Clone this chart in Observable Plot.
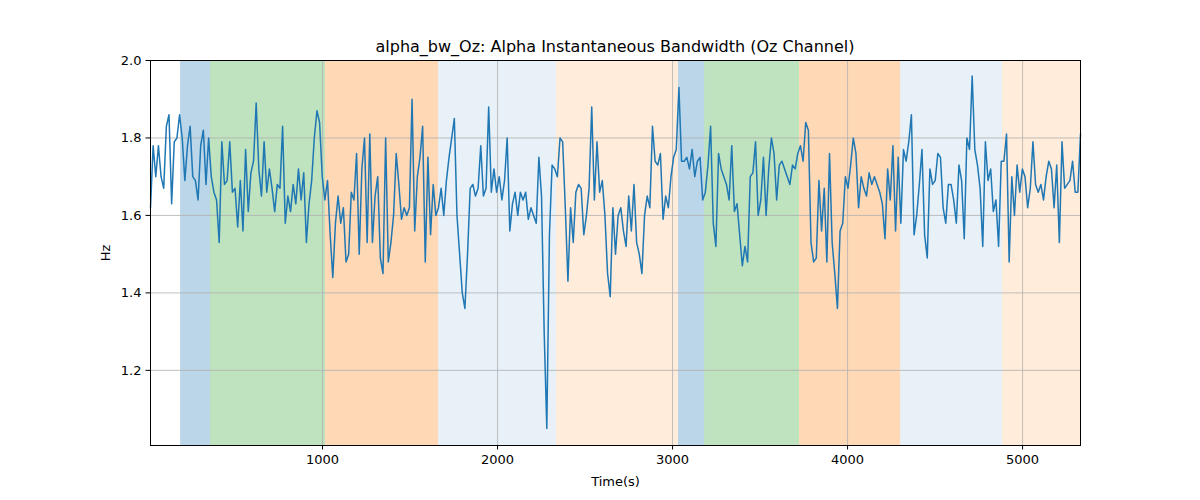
<!DOCTYPE html>
<html><head><meta charset="utf-8">
<script src="https://cdn.jsdelivr.net/npm/d3@7"></script>
<script src="https://cdn.jsdelivr.net/npm/@observablehq/plot@0.6"></script>
<style>body{margin:0;background:#fff;font-family:"DejaVu Sans",sans-serif}</style>
</head><body><div id="c"></div>
<script>
const values = [1.62,1.78,1.70,1.78,1.70,1.67,1.83,1.86,1.63,1.79,1.80,1.86,1.80,1.69,1.78,1.83,1.70,1.69,1.64,1.78,1.82,1.68,1.80,1.70,1.66,1.64,1.53,1.79,1.68,1.69,1.79,1.66,1.67,1.57,1.69,1.56,1.77,1.61,1.71,1.74,1.89,1.72,1.65,1.79,1.66,1.72,1.67,1.61,1.68,1.67,1.83,1.58,1.65,1.61,1.68,1.63,1.72,1.64,1.71,1.53,1.63,1.69,1.80,1.87,1.84,1.70,1.64,1.69,1.55,1.44,1.58,1.65,1.58,1.62,1.48,1.50,1.66,1.64,1.76,1.50,1.72,1.80,1.53,1.81,1.53,1.65,1.70,1.49,1.45,1.80,1.48,1.53,1.60,1.76,1.68,1.59,1.62,1.60,1.62,1.90,1.56,1.70,1.75,1.83,1.48,1.75,1.55,1.68,1.60,1.62,1.67,1.60,1.69,1.75,1.80,1.85,1.60,1.50,1.40,1.36,1.50,1.67,1.68,1.65,1.67,1.78,1.65,1.67,1.88,1.66,1.72,1.66,1.70,1.64,1.69,1.80,1.56,1.63,1.66,1.60,1.66,1.64,1.66,1.59,1.62,1.60,1.58,1.75,1.65,1.30,1.05,1.55,1.73,1.72,1.70,1.80,1.79,1.62,1.43,1.62,1.53,1.66,1.68,1.67,1.55,1.60,1.67,1.88,1.64,1.79,1.66,1.69,1.60,1.45,1.39,1.62,1.50,1.60,1.62,1.56,1.52,1.65,1.56,1.68,1.53,1.50,1.45,1.60,1.65,1.62,1.83,1.74,1.73,1.76,1.59,1.65,1.62,1.70,1.75,1.77,1.93,1.74,1.74,1.75,1.72,1.77,1.70,1.74,1.75,1.64,1.66,1.73,1.83,1.58,1.52,1.76,1.72,1.70,1.68,1.64,1.78,1.61,1.63,1.55,1.47,1.52,1.48,1.70,1.71,1.79,1.60,1.64,1.75,1.60,1.72,1.80,1.76,1.64,1.73,1.74,1.72,1.70,1.68,1.73,1.72,1.76,1.78,1.74,1.84,1.82,1.53,1.48,1.49,1.69,1.56,1.67,1.48,1.76,1.53,1.45,1.36,1.56,1.58,1.70,1.67,1.73,1.80,1.76,1.62,1.70,1.67,1.65,1.71,1.68,1.70,1.68,1.66,1.63,1.54,1.72,1.64,1.78,1.56,1.75,1.58,1.77,1.74,1.79,1.86,1.55,1.60,1.68,1.77,1.55,1.49,1.72,1.68,1.69,1.76,1.75,1.62,1.58,1.68,1.68,1.64,1.58,1.73,1.69,1.54,1.80,1.77,1.96,1.77,1.73,1.67,1.52,1.79,1.69,1.72,1.61,1.64,1.52,1.74,1.74,1.81,1.48,1.70,1.60,1.73,1.66,1.72,1.70,1.62,1.67,1.79,1.68,1.66,1.68,1.64,1.70,1.74,1.72,1.62,1.73,1.53,1.79,1.67,1.68,1.69,1.74,1.66,1.66,1.81];
const tStart = 17, tEnd = 5331;
const bandStarts = [189,360,1017,1663,2337,3034,3183,3726,4303,4886];
const bandEnds   = [360,1017,1663,2337,3034,3183,3726,4303,4886,5331];
const bandColors = ["#1f77b4","#2ca02c","#ff7f0e","#1f77b4","#ff7f0e","#1f77b4","#2ca02c","#ff7f0e","#1f77b4","#ff7f0e"];
const bandOpacity = [0.3,0.3,0.3,0.1,0.15,0.3,0.3,0.3,0.1,0.15];
const xTicks = [1000,2000,3000,4000,5000];
const yTicks = [1.2,1.4,1.6,1.8,2.0];

const step = (tEnd - tStart)/(values.length-1);
const series = values.map((v,i)=>({t: tStart+i*step, v}));
const bands = bandStarts.map((s,i)=>({x1:s,x2:bandEnds[i],c:bandColors[i],o:bandOpacity[i]}));

const chart = Plot.plot({
  width:1200, height:500,
  marginLeft:150, marginRight:120, marginTop:60, marginBottom:55,
  style:{fontFamily:"DejaVu Sans", fontSize:"13px", color:"#000"},
  x:{domain:[tStart,tEnd], ticks:xTicks, tickFormat:d=>String(d), label:"Time(s)", labelArrow:"none", labelAnchor:"center", labelOffset:40, tickSize:4.5},
  y:{domain:[1.006,2.0], ticks:yTicks, tickFormat:d=>d.toFixed(1), label:"Hz", labelArrow:"none", labelAnchor:"center", labelOffset:50, tickSize:4.5},
  marks:[
    Plot.rectY(bands,{x1:"x1",x2:"x2",y1:1.006,y2:2.0,fill:"c",fillOpacity:"o"}),
    Plot.gridX(xTicks,{stroke:"#b0b0b0",strokeOpacity:1,strokeWidth:0.8}),
    Plot.gridY(yTicks,{stroke:"#b0b0b0",strokeOpacity:1,strokeWidth:0.8}),
    Plot.line(series,{x:"t",y:"v",stroke:"#1f77b4",strokeWidth:1.5}),
    Plot.frame({stroke:"#000"})
  ]
});
const svg = d3.select(chart);
svg.append("text").attr("x",615).attr("y",52).attr("text-anchor","middle")
  .attr("font-size",16).attr("font-family","DejaVu Sans").attr("fill","#000")
  .text("alpha_bw_Oz: Alpha Instantaneous Bandwidth (Oz Channel)");
document.getElementById("c").appendChild(chart);
</script></body></html>
